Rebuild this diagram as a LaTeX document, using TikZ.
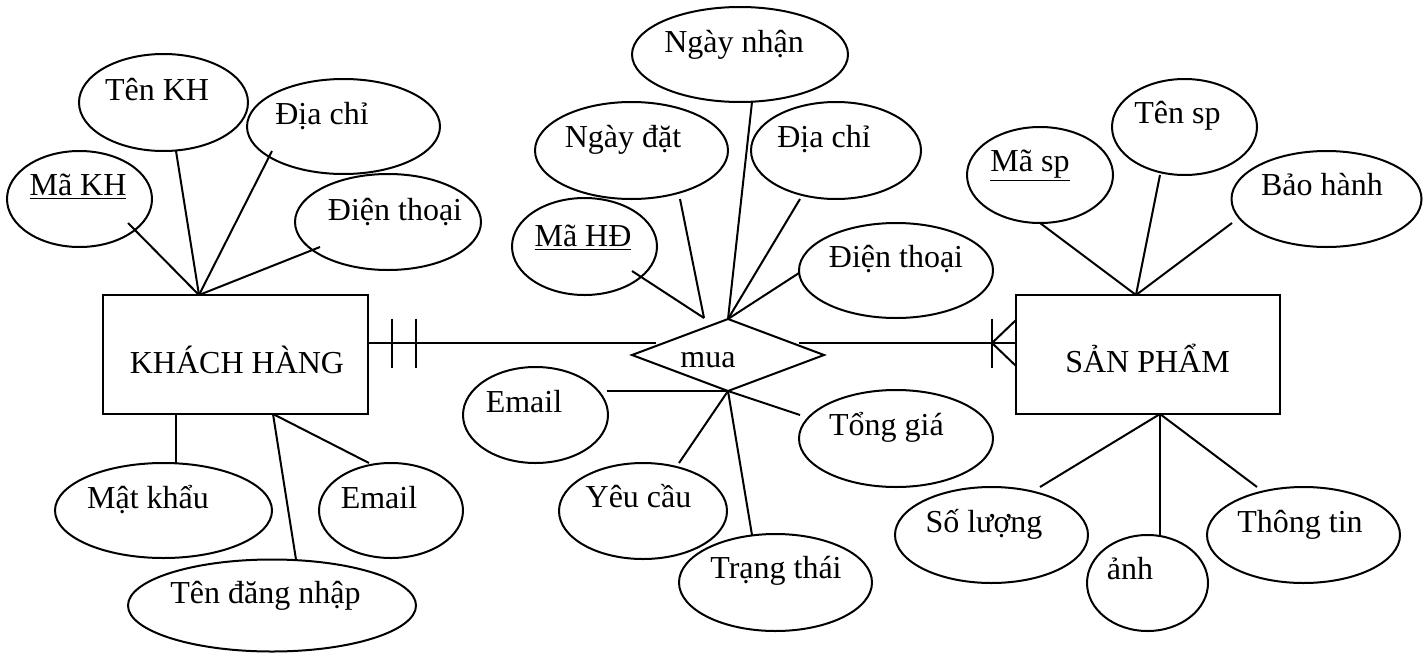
\documentclass[tikz,border=0pt]{standalone}
\usepackage{fontspec}
\setmainfont{Liberation Serif}
\usetikzlibrary{shapes.geometric}

\begin{document}
\begin{tikzpicture}[x=0.5pt,y=-0.5pt,
  line width=1pt,
  every node/.style={inner sep=0pt,outer sep=0pt},
  entity/.style={draw,rectangle},
  attr/.style={draw,ellipse},
  rel/.style={draw,diamond},
  txt/.style={anchor=base,font=\fontsize{16pt}{19pt}\selectfont},
  link/.style={draw}]
\useasboundingbox (0,0) rectangle (1423,653);

% ---------- entities and relationship ----------
\node[entity,minimum width=132.5pt,minimum height=59.5pt] (kh) at (235.5,354.5) {};
\node[txt] (kh-t) at (237,373) {KHÁCH HÀNG};
\node[entity,minimum width=132pt,minimum height=59.5pt] (sp) at (1148,354.5) {};
\node[txt] (sp-t) at (1147.5,372) {SẢN PHẨM};
\node[rel,minimum width=96pt,minimum height=36pt] (mua) at (728,355) {};
\node[txt] (mua-t) at (708,367) {mua};

% ---------- attributes of KHÁCH HÀNG ----------
\node[attr,minimum width=72.5pt,minimum height=48pt] (makh) at (79.5,199) {};
\node[txt] (makh-t) at (78,195) {\underline{Mã KH}};
\node[attr,minimum width=84.5pt,minimum height=48.5pt] (tenkh) at (163.5,102.5) {};
\node[txt] (tenkh-t) at (157,100) {Tên KH};
\node[attr,minimum width=96.5pt,minimum height=47.5pt] (diachi1) at (343.5,126.5) {};
\node[txt] (diachi1-t) at (322,124) {Địa chỉ};
\node[attr,minimum width=93pt,minimum height=48pt] (dt1) at (388,222) {};
\node[txt] (dt1-t) at (395,220) {Điện thoại};
\node[attr,minimum width=108.5pt,minimum height=47.5pt] (matkhau) at (163.5,510.5) {};
\node[txt] (matkhau-t) at (148,508) {Mật khẩu};
\node[attr,minimum width=72pt,minimum height=47.5pt] (email1) at (391,510.5) {};
\node[txt] (email1-t) at (379,508) {Email};
\node[attr,minimum width=144pt,minimum height=46pt] (tendn) at (272,605.5) {};
\node[txt] (tendn-t) at (265.5,603) {Tên đăng nhập};

% ---------- attributes of mua ----------
\node[attr,minimum width=108pt,minimum height=47.5pt] (ngaynhan) at (740,54.5) {};
\node[txt] (ngaynhan-t) at (734,52) {Ngày nhận};
\node[attr,minimum width=96.5pt,minimum height=48.5pt] (ngaydat) at (631.5,150.5) {};
\node[txt] (ngaydat-t) at (623,147) {Ngày đặt};
\node[attr,minimum width=85pt,minimum height=48.5pt] (diachi2) at (836,150.5) {};
\node[txt] (diachi2-t) at (824,147) {Địa chỉ};
\node[attr,minimum width=72.5pt,minimum height=48.5pt] (mahd) at (584.5,246.5) {};
\node[txt] (mahd-t) at (583,246) {\underline{Mã HĐ}};
\node[attr,minimum width=97pt,minimum height=47.5pt] (dt2) at (896,270.5) {};
\node[txt] (dt2-t) at (896,267) {Điện thoại};
\node[attr,minimum width=72.5pt,minimum height=48pt] (email2) at (535.5,415) {};
\node[txt] (email2-t) at (524,412) {Email};
\node[attr,minimum width=97pt,minimum height=48.5pt] (tonggia) at (896,438.5) {};
\node[txt] (tonggia-t) at (886.5,435) {Tổng giá};
\node[attr,minimum width=84pt,minimum height=48pt] (yeucau) at (643,511) {};
\node[txt] (yeucau-t) at (638.5,507) {Yêu cầu};
\node[attr,minimum width=96.5pt,minimum height=48.5pt] (trangthai) at (775.5,582.5) {};
\node[txt] (trangthai-t) at (776,578) {Trạng thái};

% ---------- attributes of SẢN PHẨM ----------
\node[attr,minimum width=73pt,minimum height=48pt] (masp) at (1040,175) {};
\node[txt] (masp-t) at (1030,171) {\underline{Mã sp}};
\node[attr,minimum width=72.5pt,minimum height=48pt] (tensp) at (1184.5,127) {};
\node[txt] (tensp-t) at (1177.5,123) {Tên sp};
\node[attr,minimum width=95pt,minimum height=48pt] (baohanh) at (1326.5,199) {};
\node[txt] (baohanh-t) at (1322,195) {Bảo hành};
\node[attr,minimum width=96.5pt,minimum height=48pt] (soluong) at (991.5,535) {};
\node[txt] (soluong-t) at (984,532) {Số lượng};
\node[attr,minimum width=60.5pt,minimum height=48pt] (anh) at (1147.5,583) {};
\node[txt] (anh-t) at (1130,579) {ảnh};
\node[attr,minimum width=96.5pt,minimum height=48pt] (thongtin) at (1303.5,535) {};
\node[txt] (thongtin-t) at (1300,532) {Thông tin};

% ---------- hub points on the entities and the relationship ----------
\coordinate (khN) at ([shift={(-36.5,0)}]kh.north);
\coordinate (khS) at ([shift={(37.5,0)}]kh.south);
\coordinate (khE) at ([shift={(0,-11.5)}]kh.east);
\coordinate (spN) at ([shift={(-12,0)}]sp.north);
\coordinate (spS) at ([shift={(12,0)}]sp.south);
\coordinate (spW) at ([shift={(0,-11.5)}]sp.west);
\coordinate (muaNW) at ([shift={(-24,-1)}]mua.north);

% ---------- attribute links: KHÁCH HÀNG ----------
\path[link] ([shift={(48.5,24)}]makh.center) -- (khN);
\path[link] ([shift={(12.5,48.5)}]tenkh.center) -- (khN);
\path[link] ([shift={(-71.5,24.5)}]diachi1.center) -- (khN);
\path[link] ([shift={(-68,25)}]dt1.center) -- (khN);
\path[link] ([shift={(-59.5,0)}]kh.south) -- ([shift={(12.5,-47.5)}]matkhau.center);
\path[link] (khS) -- ([shift={(24,-46)}]tendn.center);
\path[link] (khS) -- ([shift={(-22,-47.5)}]email1.center);

% ---------- attribute links: mua ----------
\path[link] ([shift={(47.5,24.5)}]mahd.center) -- (muaNW);
\path[link] ([shift={(48.5,48.5)}]ngaydat.center) -- (muaNW);
\path[link] ([shift={(12,47.5)}]ngaynhan.center) -- (mua.north);
\path[link] ([shift={(-36,48.5)}]diachi2.center) -- (mua.north);
\path[link] ([shift={(-97,2.5)}]dt2.center) -- (mua.north);
\path[link] (mua.south) -- ([shift={(71.5,-24)}]email2.center);
\path[link] (mua.south) -- ([shift={(-96,-23.5)}]tonggia.center);
\path[link] (mua.south) -- ([shift={(36,-48)}]yeucau.center);
\path[link] (mua.south) -- ([shift={(-23.5,-47.5)}]trangthai.center);

% ---------- attribute links: SẢN PHẨM ----------
\path[link] ([shift={(0,48)}]masp.center) -- (spN);
\path[link] ([shift={(-24.5,48)}]tensp.center) -- (spN);
\path[link] ([shift={(-94.5,24)}]baohanh.center) -- (spN);
\path[link] (spS) -- ([shift={(48.5,-48)}]soluong.center);
\path[link] (spS) -- ([shift={(12.5,-48)}]anh.center);
\path[link] (spS) -- ([shift={(-46.5,-48)}]thongtin.center);

% ---------- relationship lines with cardinality marks ----------
\path[link] (khE) -- ([shift={(-72,-12)}]mua.center);
\path[link] ([shift={(24,-24.5)}]khE) -- ([shift={(24,24.5)}]khE);
\path[link] ([shift={(48,-24.5)}]khE) -- ([shift={(48,24.5)}]khE);

\path[link] ([shift={(71,-12)}]mua.center) -- (spW);
\path[link] ([shift={(-24,-24.5)}]spW) -- ([shift={(-24,24.5)}]spW);
\path[link] ([shift={(0,-23)}]spW) -- ([shift={(-24,0)}]spW) -- ([shift={(0,23)}]spW);
\end{tikzpicture}
\end{document}
